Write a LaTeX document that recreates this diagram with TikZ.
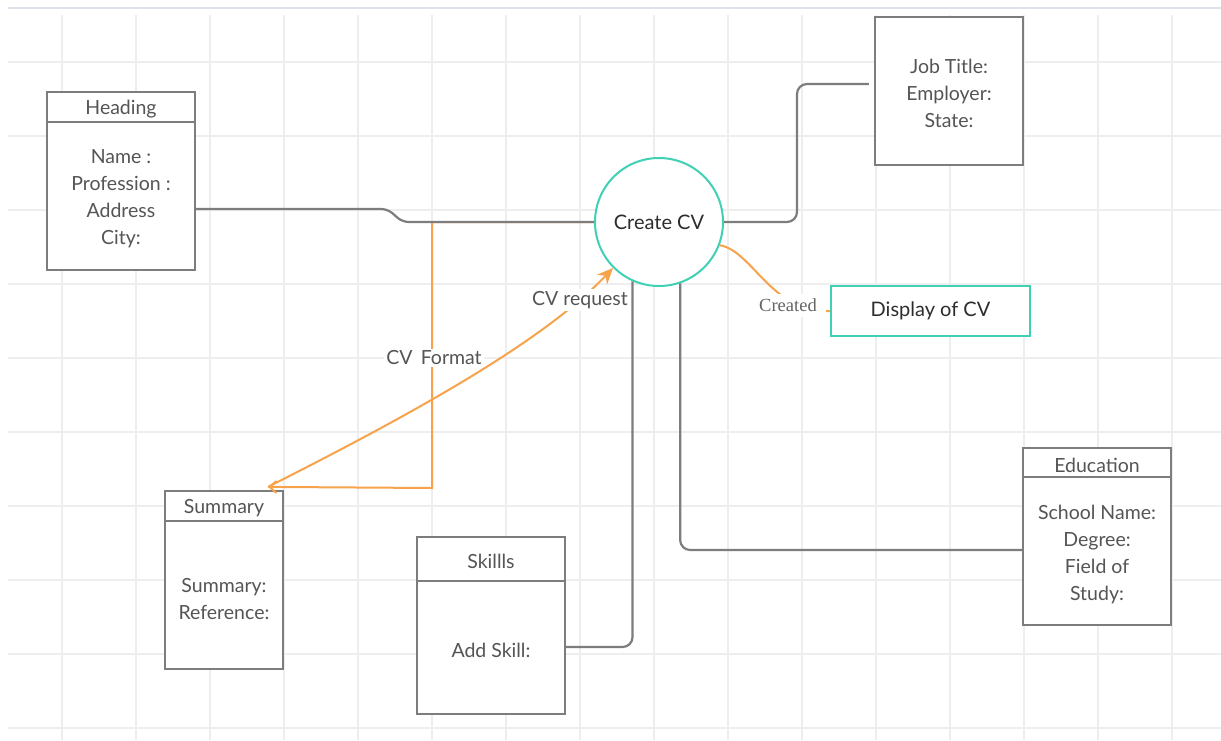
\documentclass[tikz,border=0pt]{standalone}
\usepackage{fontspec}
\setmainfont{Lato}
\newfontfamily\createdfont{Liberation Serif}
\usetikzlibrary{positioning}
\usetikzlibrary{arrows.meta,shapes}
\usetikzlibrary{calc}
\definecolor{cvteal}{RGB}{64,208,180}
\definecolor{cvorange}{RGB}{247,163,76}
\definecolor{cvgray}{RGB}{125,125,125}
\definecolor{cvtext}{RGB}{85,85,85}
\definecolor{cvdark}{RGB}{45,45,45}
\definecolor{cvlabel}{RGB}{100,100,100}
\definecolor{cvgrid}{RGB}{238,238,238}
\definecolor{cvtop}{RGB}{222,226,236}
\tikzstyle{entity}=[rectangle,draw=cvgray,fill=white,line width=2.2pt,inner sep=0pt]
\tikzstyle{boxtext}=[text=cvtext,font=\fontsize{19.5}{27}\selectfont,align=center,inner sep=0pt,yshift=-2.5pt]
\tikzstyle{link}=[draw=cvgray,line width=2.2pt]
\tikzstyle{flow}=[draw=cvorange,line width=2pt]
\tikzstyle{flowlabel}=[fill=white,text=cvtext,font=\fontsize{19.5}{27}\selectfont,inner sep=2pt,yshift=-2pt]
\tikzstyle{gridline}=[draw=cvgrid,line width=1.5pt]

\begin{document}
\begin{tikzpicture}[x=1pt,y=-1pt]

  \useasboundingbox (0,0) rectangle (1221,740);
  \fill[white] (0,0) rectangle (1221,740);

  % background grid
  \draw[draw=cvtop, line width=1.5pt] (8,8) -- (1221,8);
  \foreach \x in {62,136,...,1172}
    \draw[gridline] (\x,15) -- (\x,740);
  \foreach \y in {62,136,...,728}
    \draw[gridline] (8,\y) -- (1221,\y);

  % entity boxes
  \foreach \pos/\name/\w/\h in {{(121,181)/heading/148/178}, {(949,91)/job/148/148}, {(224,580)/summary/118/178}, {(491,625.5)/skills/148/177}, {(1097,536.5)/education/148/177}}
    \node[entity, minimum width=\w pt, minimum height=\h pt] (\name) at \pos {};

  \foreach \name/\y in {heading/122, summary/521, skills/581, education/477}
    \draw[link] (\name.west |- 0,\y) -- (\name.east |- 0,\y);

  \foreach \pos/\name/\title in {{(121,107)/headingtitle/Heading}, {(224,506)/summarytitle/Summary}, {(491,559)/skillstitle/Skillls}, {(1097,462.5)/educationtitle/Education}}
    \node[boxtext] (\name) at \pos {\title};

  \node[boxtext] (headingbody) at (121,196) {Name :\\Profession :\\Address\\City:};
  \node[boxtext] (jobbody) at (949,91) {Job Title:\\Employer:\\State:};
  \node[boxtext] (summarybody) at (224,596) {Summary:\\Reference:};
  \node[boxtext] (skillsbody) at (491,648) {Add Skill:};
  \node[boxtext] (educationbody) at (1097,552) {School Name:\\Degree:\\Field of\\Study:};

  % process and output
  \node[circle, draw=cvteal, fill=white, line width=2pt, minimum size=128pt, inner sep=0pt, text=cvdark, font=\fontsize{20}{24}\selectfont] (create) at (659,222) {Create CV};
  \node[rectangle, draw=cvteal, fill=white, line width=2pt, minimum width=199pt, minimum height=50pt, text=cvdark, font=\fontsize{20}{24}\selectfont] (display) at (930.5,311) {Display of CV};

  % orange flows
  \draw[flow, -{Straight Barb[length=7pt,width=12pt]}] (create.west) -- (432,222) -- (432,488) -- ([xshift=44pt,yshift=3pt]summary.north);
  \draw[flow, -{Stealth[length=16pt,width=14pt]}] ([xshift=44pt,yshift=3pt]summary.north) .. controls (400,420) and (540,345) .. (create.225);
  \draw[flow] (create.-21) .. controls (752,250) and (772,314) .. (display.west);

  % grey links
  \draw[link] ([yshift=-28pt]heading.east) -- (380,209) .. controls (396,209) and (394,222) .. (410,222) -- (create.west);
  \draw[link, rounded corners=10pt] (create.east) -- (797,222) -- (797,84) -- ([xshift=-5pt,yshift=7pt]job.west);
  \draw[link, rounded corners=10pt] (create.246) |- ([yshift=-21.5pt]skills.east);
  \draw[link, rounded corners=10pt] (create.289) |- ([yshift=-13.5pt]education.west);

  % flow labels
  \node[flowlabel] (cvformat) at (434,356) {CV\, Format};
  \node[flowlabel] (cvrequest) at (580,298) {CV request};
  \node[flowlabel, inner xsep=9pt, inner ysep=5pt, text=cvlabel, font=\createdfont\fontsize{18.5}{22}\selectfont] (created) at (788,303) {Created};

\end{tikzpicture}
\end{document}
